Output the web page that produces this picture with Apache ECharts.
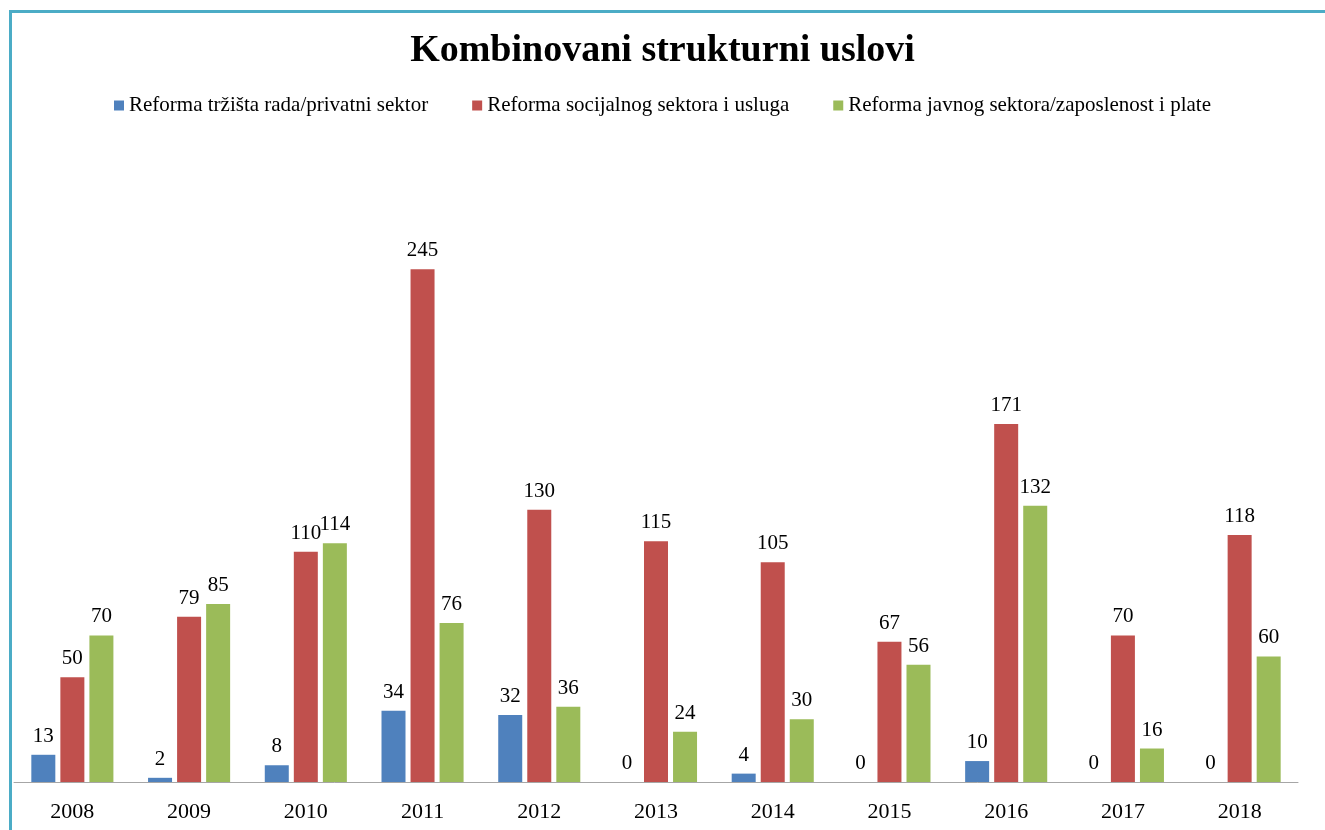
<!DOCTYPE html>
<html><head><meta charset="utf-8">
<script src="https://cdn.jsdelivr.net/npm/echarts@6/dist/echarts.min.js"></script>
<style>html,body{margin:0;padding:0;background:#fff}#c{width:1325px;height:830px}</style>
</head><body><div id="c"></div>
<script>
const categories = ['2008','2009','2010','2011','2012','2013','2014','2015','2016','2017','2018'];
const seriesNames = ['Reforma tržišta rada/privatni sektor','Reforma socijalnog sektora i usluga','Reforma javnog sektora/zaposlenost i plate'];
const trziste = [13,2,8,34,32,0,4,0,10,0,0];
const socijalni = [50,79,110,245,130,115,105,67,171,70,118];
const javni = [70,85,114,76,36,24,30,56,132,16,60];
const colors = ['#4F81BD','#C0504D','#9BBB59'];
const FONT = '"Liberation Serif", "DejaVu Serif", serif';

const chart = echarts.init(document.getElementById('c'));
const mk = (name, data, color) => ({
  name, type:'bar', data, barWidth:24, barGap:'21%',
  itemStyle:{color},
  label:{show:true, position:'top', distance:8, color:'#000', fontFamily:FONT, fontSize:21},
  emphasis:{disabled:true}
});
chart.setOption({
  animation:false,
  graphic:[{type:'polyline', shape:{points:[[10.5,830],[10.5,11.5],[1325,11.5]]}, style:{stroke:'#4BACC6', lineWidth:3, fill:null}}],
  title:{text:'Kombinovani strukturni uslovi', left:'center', top:27,
    textStyle:{fontFamily:FONT, fontWeight:'bold', fontSize:38, color:'#000'}},
  legend:{top:90, left:'center', itemWidth:10, itemHeight:10, itemGap:44, icon:'rect',
    textStyle:{fontFamily:FONT, fontSize:21, color:'#000'}, data:seriesNames},
  grid:{left:14, right:27, top:154, bottom:48},
  xAxis:{type:'category', data:categories,
    axisLine:{lineStyle:{color:'#A6A6A6'}}, axisTick:{show:false},
    axisLabel:{fontFamily:FONT, fontSize:22, color:'#000', margin:19}},
  yAxis:{type:'value', min:0, max:300, show:false, splitLine:{show:false}},
  series:[mk(seriesNames[0],trziste,colors[0]), mk(seriesNames[1],socijalni,colors[1]), mk(seriesNames[2],javni,colors[2])]
});
</script></body></html>
